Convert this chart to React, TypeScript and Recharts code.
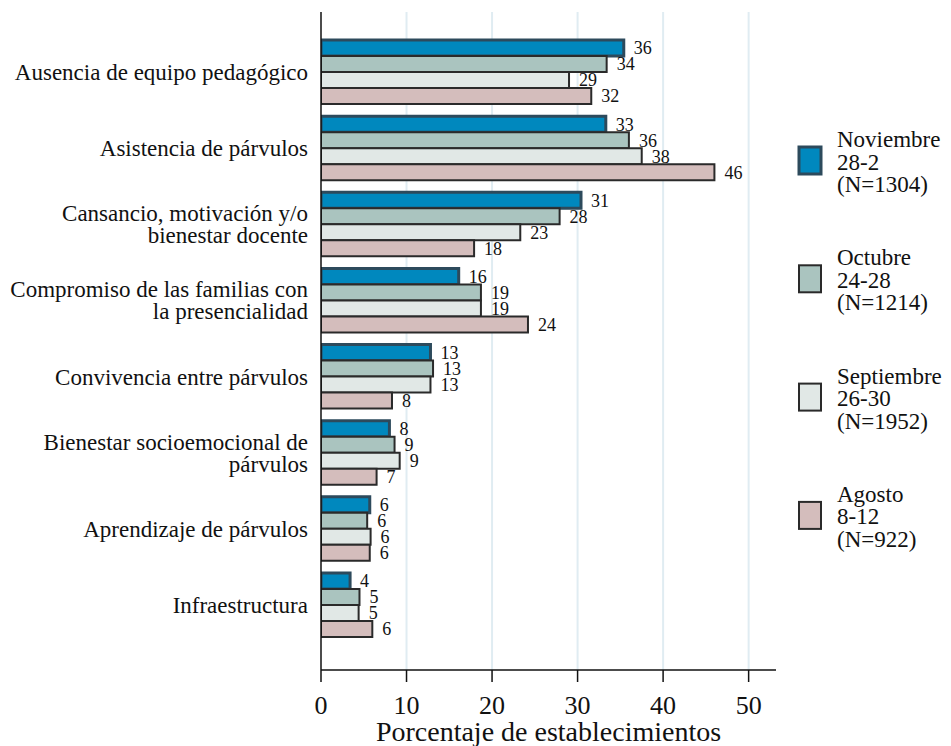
import { BarChart, Bar, XAxis, YAxis, CartesianGrid, LabelList } from "recharts"

const categories = [
  "Ausencia de equipo pedagógico",
  "Asistencia de párvulos",
  "Cansancio, motivación y/o\nbienestar docente",
  "Compromiso de las familias con\nla presencialidad",
  "Convivencia entre párvulos",
  "Bienestar socioemocional de\npárvulos",
  "Aprendizaje de párvulos",
  "Infraestructura",
]

const noviembre = [35.4, 33.3, 30.4, 16.1, 12.8, 8.0, 5.7, 3.4]
const octubre = [33.4, 36.0, 27.9, 18.7, 13.1, 8.6, 5.4, 4.5]
const septiembre = [29.0, 37.5, 23.3, 18.7, 12.8, 9.2, 5.8, 4.4]
const agosto = [31.6, 46.0, 17.9, 24.2, 8.3, 6.5, 5.7, 6.0]

const noviembreLabels = [36, 33, 31, 16, 13, 8, 6, 4]
const octubreLabels = [34, 36, 28, 19, 13, 9, 6, 5]
const septiembreLabels = [29, 38, 23, 19, 13, 9, 6, 5]
const agostoLabels = [32, 46, 18, 24, 8, 7, 6, 6]

const xTicks = [0, 10, 20, 30, 40, 50]
const xMax = 53.2

const series = [
  { key: "nov", legend: ["Noviembre", "28-2", "(N=1304)"], fill: "#0088BE", stroke: "#2D4A5C", width: 3 },
  { key: "oct", legend: ["Octubre", "24-28", "(N=1214)"], fill: "#AAC4BF", stroke: "#2A2A2A", width: 2 },
  { key: "sep", legend: ["Septiembre", "26-30", "(N=1952)"], fill: "#E1E8E6", stroke: "#2A2A2A", width: 2 },
  { key: "ago", legend: ["Agosto", "8-12", "(N=922)"], fill: "#D4BDBC", stroke: "#2A2A2A", width: 2 },
]

const data = categories.map((name, i) => ({
  name,
  nov: noviembre[i],
  oct: octubre[i],
  sep: septiembre[i],
  ago: agosto[i],
  novLabel: noviembreLabels[i],
  octLabel: octubreLabels[i],
  sepLabel: septiembreLabels[i],
  agoLabel: agostoLabels[i],
}))

const FONT = "'Liberation Serif', 'Times New Roman', serif"

const CategoryTick = (props: any) => {
  const { x, y, payload } = props
  const lines = String(payload.value).split("\n")
  const lh = 22
  const start = -((lines.length - 1) * lh) / 2
  return (
    <text x={x} y={y} textAnchor="end" fontFamily={FONT} fontSize={23} fill="#111">
      {lines.map((l, i) => (
        <tspan key={i} x={x} y={y + start + i * lh + 8}>
          {l}
        </tspan>
      ))}
    </text>
  )
}

const LegendBlock = () => (
  <svg width={161} height={440} style={{ position: "absolute", left: 790, top: 120 }}>
    {series.map((s, i) => {
      const top = 27 + i * 118.3
      return (
        <g key={s.key}>
          <rect x={9} y={top} width={22} height={27} fill={s.fill} stroke={s.stroke} strokeWidth={s.width} />
          {s.legend.map((t, j) => (
            <text key={j} x={47} y={top + j * 22.5} fontFamily={FONT} fontSize={23} fill="#111">
              {t}
            </text>
          ))}
        </g>
      )
    })}
  </svg>
)

// grid lines only at the labelled ticks, none at the domain end
const gridAtTicks = ({ offset }: any) =>
  xTicks.slice(1).map((t) => offset.left + (offset.width * t) / xMax)

export default function App() {
  return (
    <div style={{ position: "absolute", left: 0, top: 0, width: 951, height: 746, background: "#fff" }}>
      <BarChart
        width={951}
        height={746}
        data={data}
        layout="vertical"
        margin={{ top: 12, right: 175, bottom: 0, left: 0 }}
        barCategoryGap={6}
        barGap={0}
      >
        <CartesianGrid
          horizontal={false}
          stroke="#E0ECF2"
          strokeWidth={2}
          verticalCoordinatesGenerator={gridAtTicks}
        />
        <XAxis
          type="number"
          domain={[0, xMax]}
          ticks={xTicks}
          allowDataOverflow
          height={76}
          tickSize={12}
          tickMargin={14}
          axisLine={{ stroke: "#111", strokeWidth: 1.5 }}
          tickLine={{ stroke: "#111", strokeWidth: 1.5 }}
          tick={{ fontFamily: FONT, fontSize: 26, fill: "#111" }}
          label={{
            value: "Porcentaje de establecimientos",
            position: "insideBottom",
            offset: 5,
            style: { fontFamily: FONT, fontSize: 28, fill: "#111" },
          }}
        />
        <YAxis
          type="category"
          dataKey="name"
          width={321}
          padding={{ top: 22, bottom: 27 }}
          tickSize={0}
          tickMargin={13}
          tickLine={false}
          axisLine={{ stroke: "#111", strokeWidth: 1.5 }}
          tick={<CategoryTick />}
          interval={0}
        />
        {series.map((s) => (
          <Bar
            key={s.key}
            dataKey={s.key}
            fill={s.fill}
            stroke={s.stroke}
            strokeWidth={s.width}
            isAnimationActive={false}
          >
            <LabelList
              dataKey={`${s.key}Label`}
              position="right"
              offset={10}
              style={{ fontFamily: FONT, fontSize: 18, fill: "#111" }}
            />
          </Bar>
        ))}
      </BarChart>
      <LegendBlock />
    </div>
  )
}
